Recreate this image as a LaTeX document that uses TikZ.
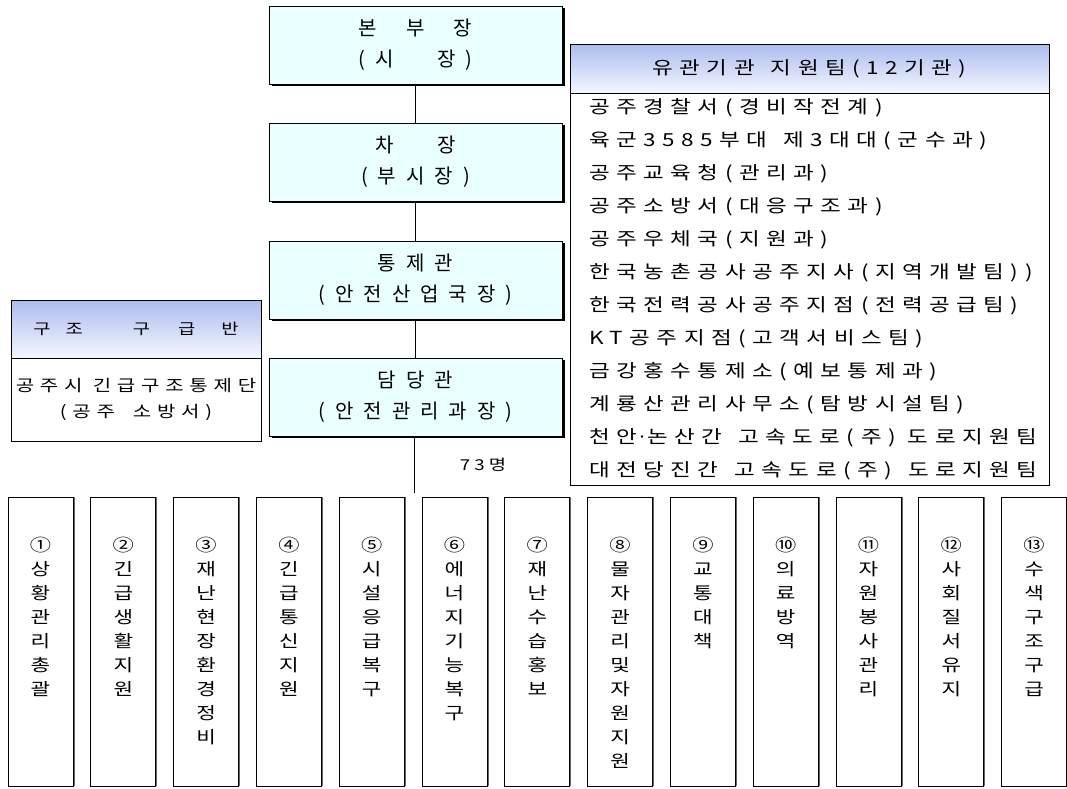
\documentclass[tikz,border=0pt]{standalone}
\usepackage{fontspec}
\setmainfont{Noto Sans CJK KR}
\newfontfamily\kr{Noto Sans CJK KR}[LetterSpace=50]
\newfontfamily\krx{Noto Sans CJK KR}[FakeStretch=1.25,LetterSpace=28]
\newfontfamily\krxw{Noto Sans CJK KR}[FakeStretch=1.25,LetterSpace=36]
\newcommand\widegap{\spaceskip=16pt\relax}
\usetikzlibrary{shadows}
\definecolor{boxcyan}{RGB}{234,255,255}
\definecolor{headblue}{RGB}{172,188,238}
\definecolor{headlow}{RGB}{244,247,255}

\begin{document}
\begin{tikzpicture}[x=1pt,y=-1pt,
  mainbox/.style={draw=black,line width=1pt,fill=boxcyan,minimum width=293pt,minimum height=78pt,
    inner sep=0pt,align=center,font=\kr\fontsize{20}{31}\selectfont,
    drop shadow={shadow xshift=3pt,shadow yshift=-2pt,fill=black,opacity=1}},
  headbox/.style={draw=black,line width=0.8pt,top color=headblue,bottom color=headlow,inner sep=0pt},
  plainbox/.style={draw=black,line width=0.8pt,fill=white,inner sep=0pt},
  item/.style={anchor=west,inner sep=0pt,font={\krxw\fontsize{18}{20}\selectfont\widegap}},
  colbox/.style={draw=black,line width=1pt,fill=white,minimum width=65pt,minimum height=289pt,inner sep=0pt,
    drop shadow={shadow xshift=1.5pt,shadow yshift=0pt,fill=black!60,opacity=1}},
  coltext/.style={anchor=north,inner sep=0pt,align=center,font=\krx\fontsize{17}{24}\selectfont},
  link/.style={line width=1pt}]
\path[use as bounding box,fill=white] (0,0) rectangle (1067,788);

\node[mainbox] (hq) at (415.5,45) {본\ \ 부\ \ 장\\(시\ \ \ 장)};
\node[mainbox] (vice) at (415.5,162) {차\ \ \ 장\\(부시장)};
\node[mainbox] (ctrl) at (415.5,280) {통제관\\(안전산업국장)};
\node[mainbox] (duty) at (415.5,397) {담당관\\(안전관리과장)};
\coordinate (split) at (414,493);

\draw[link] (hq) -- (vice);
\draw[link] (vice) -- (ctrl);
\draw[link] (ctrl) -- (duty);
\draw[link] (duty.south -| split) -- (split);
\node[font=\krx\fontsize{15}{18}\selectfont] (staff) at (483,465) {73명};

% 유관기관 지원팀
\node[plainbox,minimum width=479pt,minimum height=441pt] (team) at (809.5,264.5) {};
\node[headbox,minimum width=479pt,minimum height=49pt,font={\krxw\fontsize{18}{20}\selectfont\widegap}] (teamhead) at (809.5,68.5) {유관기관 지원팀(12기관)};
\foreach \t [count=\i] in {공주경찰서(경비작전계), 육군3585부대 제3대대(군수과), 공주교육청(관리과),
  공주소방서(대응구조과), 공주우체국(지원과), 한국농촌공사공주지사(지역개발팀)),
  한국전력공사공주지점(전력공급팀), KT공주지점(고객서비스팀), 금강홍수통제소(예보통제과),
  계룡산관리사무소(탐방시설팀), 천안{\rmfamily ·}논산간 고속도로(주)\hspace{-4pt} 도로지원팀, 대전당진간 고속도로(주) 도로지원팀}
  \node[item] (org\i) at (589,{108+33*(\i-1)}) {\t};

% 구조 구급반
\node[headbox,minimum width=250pt,minimum height=58pt,font=\krx\fontsize{15}{20}\selectfont] (reshead) at (136,329)
  {구\hspace{15pt}조\hspace{50pt}구\hspace{28pt}급\hspace{26pt}반};
\node[plainbox,minimum width=250pt,minimum height=83pt,align=center,font=\krxw\fontsize{16}{26}\selectfont] (resbody) at (136,399.5)
  {공주시 긴급구조통제단\\(공주\hspace{18pt}소방서)};

% 실무반
\foreach \t [count=\i] in {{①\\상\\황\\관\\리\\총\\괄}, {②\\긴\\급\\생\\활\\지\\원}, {③\\재\\난\\현\\장\\환\\경\\정\\비},
  {④\\긴\\급\\통\\신\\지\\원}, {⑤\\시\\설\\응\\급\\복\\구}, {⑥\\에\\너\\지\\기\\능\\복\\구},
  {⑦\\재\\난\\수\\습\\홍\\보}, {⑧\\물\\자\\관\\리\\및\\자\\원\\지\\원}, {⑨\\교\\통\\대\\책},
  {⑩\\의\\료\\방\\역}, {⑪\\자\\원\\봉\\사\\관\\리}, {⑫\\사\\회\\질\\서\\유\\지}, {⑬\\수\\색\\구\\조\\구\\급}}
{
  \node[colbox] (col\i) at ({40.5+82.8*(\i-1)},641.5) {};
  \node[coltext] (ct\i) at ([yshift=-40pt]col\i.north) {\t};
}
\end{tikzpicture}
\end{document}
